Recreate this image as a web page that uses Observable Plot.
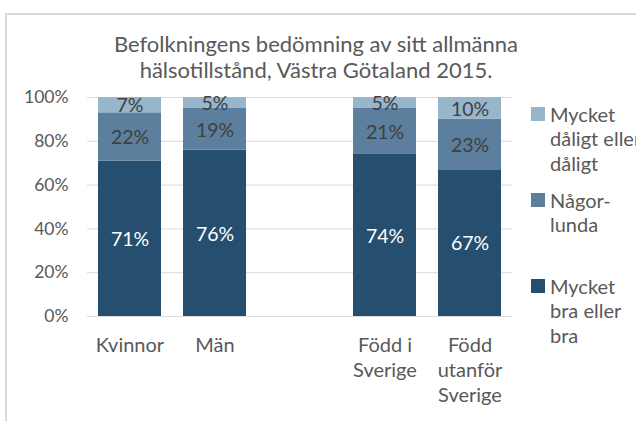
<!DOCTYPE html>
<html>
<head>
<meta charset="utf-8">
<script src="https://cdn.jsdelivr.net/npm/d3@7"></script>
<script src="https://cdn.jsdelivr.net/npm/@observablehq/plot@0.6"></script>
<style>
  html, body { margin: 0; padding: 0; background: #fff; }
  #wrap { position: relative; width: 636px; height: 421px; overflow: hidden; font-family: Lato, "Open Sans", sans-serif; color: #595959; }
  #frame { position: absolute; left: 5px; top: 13px; width: 700px; height: 500px; border-left: 2px solid #d9d9d9; border-top: 2px solid #d9d9d9; }
  #title { position: absolute; left: 0; width: 632px; top: 31px; text-align: center; font-size: 22px; line-height: 25.5px; color: #595959; }
  #chart { position: absolute; left: 0; top: 0; }
  .leg { position: absolute; left: 531px; font-size: 20px; line-height: 24.4px; color: #595959; white-space: nowrap; }
  .leg .sw { position: absolute; left: 0; top: 5px; width: 14px; height: 14px; }
  .leg .tx { position: absolute; left: 19px; top: 0; }
</style>
</head>
<body>
<div id="wrap">
  <div id="frame"></div>
  <div id="chart"></div>
  <div id="title">Befolkningens bedömning av sitt allmänna<br>hälsotillstånd, Västra Götaland 2015.</div>
  <div id="legend"></div>
</div>
<script>
const groups = ["Kvinnor", "Män", "Född i Sverige", "Född utanför Sverige"];
const groupLabels = ["Kvinnor", "Män", "Född i\nSverige", "Född\nutanför\nSverige"];
const xDomain = ["Kvinnor", "Män", "", "Född i Sverige", "Född utanför Sverige"];
const series = ["Mycket bra eller bra", "Någorlunda", "Mycket dåligt eller dåligt"];
const legendLabels = ["Mycket\nbra eller\nbra", "Någor-\nlunda", "Mycket\ndåligt eller\ndåligt"];
const colors = ["#264f6f", "#5b7f9c", "#97b5cb"];
const good = [71, 76, 74, 67];
const fair = [22, 19, 21, 23];
const poor = [7, 5, 5, 10];
const yTicks = [0, 20, 40, 60, 80, 100];

const values = [good, fair, poor];
const data = [];
groups.forEach((g, i) => {
  series.forEach((s, j) => data.push({group: g, series: s, value: values[j][i]}));
});

const labelOf = new Map(groups.map((g, i) => [g, groupLabels[i]]));

const chart = Plot.plot({
  width: 636,
  height: 421,
  marginTop: 97,
  marginBottom: 105,
  marginLeft: 87,
  marginRight: 124,
  style: {fontFamily: "Lato, 'Open Sans', sans-serif", fontSize: "20px", color: "#595959", background: "transparent", overflow: "visible"},
  x: {domain: xDomain, paddingInner: 0.259, paddingOuter: 0.1295, label: null},
  y: {domain: [0, 100], label: null},
  color: {domain: series, range: colors},
  marks: [
    Plot.gridY(yTicks, {stroke: "#d9d9d9", strokeOpacity: 1, strokeWidth: 1}),
    Plot.barY(data, {x: "group", y: "value", fill: "series", order: series}),
    Plot.text(data, Plot.stackY({x: "group", y: "value", z: "series", order: series,
      text: d => d.series === series[0] ? d.value + "%" : "", fill: "white", fontSize: 19.5, dy: 1})),
    Plot.text(data, Plot.stackY({x: "group", y: "value", z: "series", order: series,
      text: d => d.series !== series[0] ? d.value + "%" : "", fill: "#404040", fontSize: 19.5, dy: 1})),
    Plot.axisY(yTicks, {tickSize: 0, tickPadding: 19, tickFormat: d => d + "%", fill: "#595959", fontSize: 17.5}),
    Plot.axisX(groups, {tickSize: 0, tickPadding: 18, tickFormat: d => labelOf.get(d), lineHeight: 1.25, fill: "#595959", fontSize: 20, textAnchor: "middle", lineAnchor: "top"})
  ]
});
document.getElementById("chart").appendChild(chart);

// Legend (HTML), from series/colour arrays
const legendTops = [274, 188, 102];
const legend = document.getElementById("legend");
series.forEach((s, i) => {
  const el = document.createElement("div");
  el.className = "leg";
  el.style.top = legendTops[i] + "px";
  el.innerHTML = `<div class="sw" style="background:${colors[i]}"></div><div class="tx">${legendLabels[i].replace(/\n/g, "<br>")}</div>`;
  legend.appendChild(el);
});
</script>
</body>
</html>
